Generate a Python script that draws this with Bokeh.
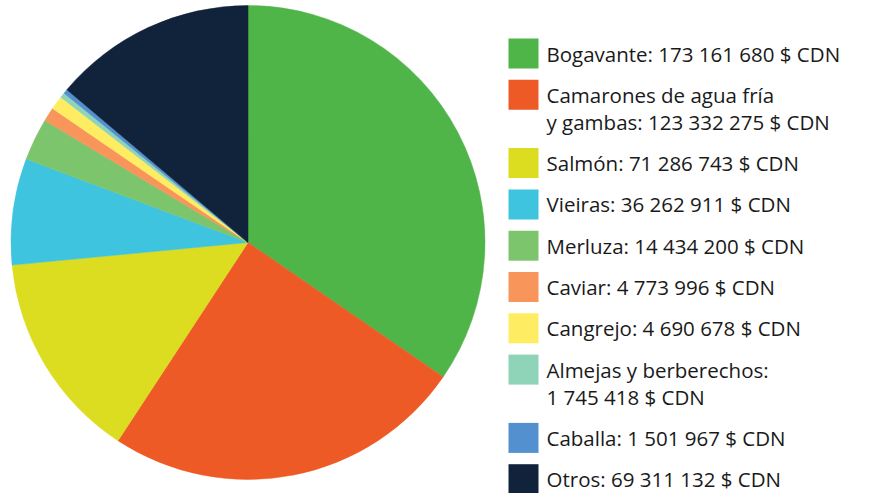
import math
from bokeh.plotting import figure
from bokeh.models import Range1d, ColumnDataSource
from bokeh.core.properties import value
from bokeh.embed import file_html
from bokeh.resources import INLINE

# ---- data ----
categories = ["Bogavante", "Camarones de agua fría y gambas", "Salmón", "Vieiras",
              "Merluza", "Caviar", "Cangrejo", "Almejas y berberechos", "Caballa", "Otros"]
values = [173161680, 123332275, 71286743, 36262911, 14434200,
          4773996, 4690678, 1745418, 1501967, 69311132]
legend_lines = [
    ["Bogavante: 173 161 680 $ CDN"],
    ["Camarones de agua fría", "y gambas: 123 332 275 $ CDN"],
    ["Salmón: 71 286 743 $ CDN"],
    ["Vieiras: 36 262 911 $ CDN"],
    ["Merluza: 14 434 200 $ CDN"],
    ["Caviar: 4 773 996 $ CDN"],
    ["Cangrejo: 4 690 678 $ CDN"],
    ["Almejas y berberechos:", "1 745 418 $ CDN"],
    ["Caballa: 1 501 967 $ CDN"],
    ["Otros: 69 311 132 $ CDN"],
]
colors = ["#50b548", "#ee5a26", "#dcdd20", "#3ec4df", "#7dc56d",
          "#f7955a", "#feec62", "#8fd3b9", "#5290cf", "#10233b"]

# ---- layout (reference pixel space, y measured from top) ----
W, H = 875, 493
cx, cy, r = 247.5, 242, 237
sq_x, sq_size = 508, 30
text_x = 546
first_top = 38
row_pitch = 41.3
line_h = 27
font = "Open Sans"
font_size = "20.5px"

def Y(y_top):
    return H - y_top

p = figure(width=W, height=H, output_backend="svg", toolbar_location=None,
           x_range=Range1d(0, W), y_range=Range1d(0, H),
           min_border=0, outline_line_color=None)
p.axis.visible = False
p.grid.visible = False
p.background_fill_color = "white"
p.border_fill_color = "white"

total = float(sum(values))
starts, ends = [], []
acc = 0.0
for v in values:
    a0 = math.pi / 2 - 2 * math.pi * acc / total
    acc += v
    a1 = math.pi / 2 - 2 * math.pi * acc / total
    starts.append(a0)
    ends.append(a1)

src = ColumnDataSource(dict(start=starts, end=ends, color=colors, cat=categories))
p.wedge(x=cx, y=Y(cy), radius=r, start_angle="start", end_angle="end",
        direction="clock", fill_color="color", line_color="color", line_width=0.5,
        source=src)

# legend
sq_xs, sq_ys, txt_x, txt_y, txt = [], [], [], [], []
top = first_top
for col, lines in zip(colors, legend_lines):
    sq_xs.append(sq_x + sq_size / 2)
    sq_ys.append(Y(top + sq_size / 2))
    for i, ln in enumerate(lines):
        txt_x.append(text_x)
        txt_y.append(Y(top + sq_size / 2 + i * line_h))
        txt.append(ln)
    top += row_pitch + line_h * (len(lines) - 1)

p.rect(x=sq_xs, y=sq_ys, width=sq_size, height=sq_size, fill_color=colors, line_color=None)
p.text(x=txt_x, y=txt_y, text=txt, text_font=value(font), text_font_size=font_size,
       text_baseline="middle", text_align="left", text_color="#1a1a1a")

open("out.html", "w").write(file_html(p, INLINE))
